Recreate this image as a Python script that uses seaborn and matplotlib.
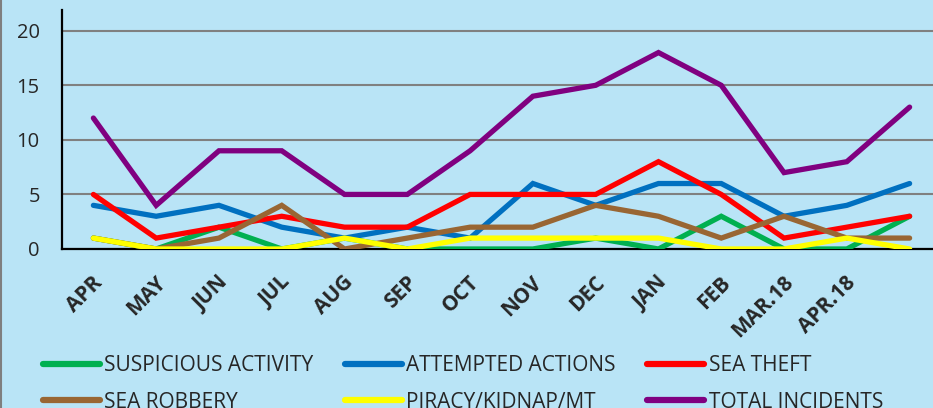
import matplotlib
matplotlib.use("Agg")
import matplotlib.pyplot as plt
import matplotlib.transforms as mtransforms
import seaborn as sns
import pandas as pd
from matplotlib.lines import Line2D

# month labels (last category has no label in the source)
months = ["APR", "MAY", "JUN", "JUL", "AUG", "SEP", "OCT", "NOV", "DEC",
          "JAN", "FEB", "MAR.18", "APR.18", ""]

suspicious = [1, 0, 2, 0, 1, 0, 0, 0, 1, 0, 3, 0, 0, 3]
attempted = [4, 3, 4, 2, 1, 2, 1, 6, 4, 6, 6, 3, 4, 6]
sea_theft = [5, 1, 2, 3, 2, 2, 5, 5, 5, 8, 5, 1, 2, 3]
sea_robbery = [1, 0, 1, 4, 0, 1, 2, 2, 4, 3, 1, 3, 1, 1]
piracy = [1, 0, 0, 0, 1, 0, 1, 1, 1, 1, 0, 0, 1, 0]
total = [12, 4, 9, 9, 5, 5, 9, 14, 15, 18, 15, 7, 8, 13]

series_names = ["SUSPICIOUS ACTIVITY", "ATTEMPTED ACTIONS", "SEA THEFT",
                "SEA ROBBERY", "PIRACY/KIDNAP/MT", "TOTAL INCIDENTS"]
series_values = [suspicious, attempted, sea_theft, sea_robbery, piracy, total]
colors = ["#00B050", "#0070C0", "#FF0000", "#996633", "#FFFF00", "#800080"]

bg = "#B9E4F6"

sns.set_style("white")
plt.rcParams["font.family"] = ["Open Sans", "DejaVu Sans"]

rows = []
for name, vals in zip(series_names, series_values):
    for i, v in enumerate(vals):
        rows.append({"idx": i, "value": v, "series": name})
df = pd.DataFrame(rows)

fig = plt.figure(figsize=(9.33, 4.08), dpi=100, facecolor=bg)
ax = fig.add_axes([62 / 933, 159 / 408, 879 / 933, 239 / 408])
ax.set_facecolor(bg)

for name, col in zip(series_names, colors):
    sns.lineplot(data=df[df["series"] == name], x="idx", y="value", color=col,
                 linewidth=3.8, ax=ax, legend=False, zorder=3,
                 solid_capstyle="round", solid_joinstyle="miter")

ax.set_xlim(-0.5, len(months) - 0.5)
ax.set_ylim(0, 21.9)
ax.set_yticks([0, 5, 10, 15, 20])
ax.set_xticks(range(len(months)))
ax.set_xticklabels(months, rotation=45, ha="right", va="center",
                   rotation_mode="anchor", fontweight="bold", fontsize=15)
ax.tick_params(axis="x", length=0, pad=22)
ax.tick_params(axis="y", length=0, pad=16, labelsize=14.5)
# nudge the rotated month labels a little to the right
shift = mtransforms.ScaledTranslation(6 / 100, 0, fig.dpi_scale_trans)
for lab in ax.get_xticklabels():
    lab.set_transform(lab.get_transform() + shift)
ax.set_xlabel("")
ax.set_ylabel("")

ax.yaxis.grid(True, color="#808080", linewidth=1.5)
ax.set_axisbelow(True)
for s in ["top", "right"]:
    ax.spines[s].set_visible(False)
for s in ["left", "bottom"]:
    ax.spines[s].set_color("black")
    ax.spines[s].set_linewidth(1.6)

# legend: fill column-wise, so reorder to get the two rows as in the source
order = [0, 3, 1, 4, 2, 5]
handles = [Line2D([], [], color=colors[i], linewidth=4.5, solid_capstyle="round")
           for i in order]
labels = [series_names[i] for i in order]
fig.legend(handles, labels, ncol=3, loc="upper left",
           bbox_to_anchor=(43 / 933, 1 - 355 / 408), frameon=False,
           fontsize=15, handlelength=2.75, handletextpad=0.2,
           columnspacing=1.5, labelspacing=0.75, borderpad=0, borderaxespad=0)

# thin gray border on the left edge
fig.add_artist(Line2D([0.001, 0.001], [0, 1], color="#7F7F7F", linewidth=1.5,
                      transform=fig.transFigure))

fig.savefig("out.png", dpi=100, facecolor=bg)
